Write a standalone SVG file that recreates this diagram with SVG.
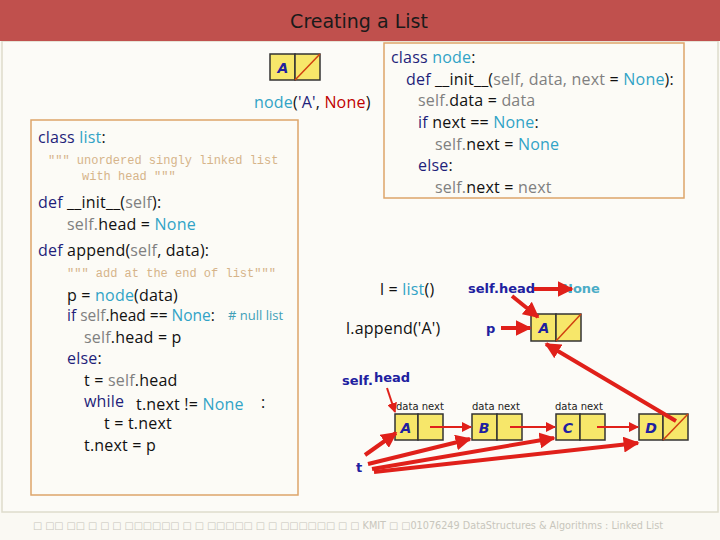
<svg xmlns="http://www.w3.org/2000/svg" width="720" height="540" viewBox="0 0 720 540">
<style>
.code{font-family:"Open Sans","Liberation Sans",sans-serif;font-size:16px;letter-spacing:0.2px;fill:#111}
.kw{fill:#1F1F7A}
.tl{fill:#31A3C6}
.gr{fill:#808080}
.doc{font-family:"Liberation Mono",monospace;font-size:12px;letter-spacing:0;fill:#D6B48A}
.lbl{font-family:"Comic Sans MS","DejaVu Sans",sans-serif;font-weight:bold;fill:#2020A0;font-size:13px}
.small{font-family:"Comic Sans MS","DejaVu Sans",sans-serif;font-size:10px;fill:#222}
.cell{fill:#F7E76A;stroke:#333;stroke-width:1.5}
.slash{stroke:#D04010;stroke-width:1.5}
.nd{font-family:"Comic Sans MS","DejaVu Sans",sans-serif;font-weight:bold;font-style:italic;font-size:14px;fill:#2020A0;text-anchor:middle}
.box{fill:#FCFBF6;stroke:#DDA56A;stroke-width:1.5}
.thin{stroke:#E0201A;stroke-width:2;fill:none}
.thick{stroke:#E0201A;stroke-width:4;fill:none}
</style>
<defs>
<marker id="ah" viewBox="0 0 10 10" refX="9" refY="5" markerWidth="5" markerHeight="5" orient="auto" markerUnits="strokeWidth"><path d="M0,0 L10,5 L0,10 z" fill="#E0201A"/></marker>
<marker id="ahs" viewBox="0 0 10 10" refX="9" refY="5" markerWidth="4" markerHeight="4" orient="auto" markerUnits="strokeWidth"><path d="M0,0 L10,5 L0,10 z" fill="#E0201A"/></marker>
</defs>
<rect x="0" y="0" width="720" height="540" fill="#FAF9F3"/>
<rect x="2" y="41" width="716" height="471" fill="#FCFBF7" stroke="#DEDCCC" stroke-width="1.5"/>
<rect x="0" y="0" width="720" height="41" fill="#C0504D"/>
<text x="359" y="28" text-anchor="middle" font-family="'Comic Sans MS','DejaVu Sans',sans-serif" font-size="19" fill="#1a1a1a">Creating a List</text>

<g id="node-demo">
<rect class="cell" x="270" y="54" width="25" height="26"/>
<rect class="cell" x="295" y="54" width="25" height="26"/>
<line class="slash" x1="295" y1="80" x2="320" y2="54"/>
<text class="nd" x="283" y="73">A</text>
<text class="code" x="254" y="108"><tspan class="tl">node</tspan>(<tspan style="fill:#1F1F7A">'A'</tspan>, <tspan style="fill:#C00000">None</tspan>)</text>
</g>

<g id="class-node">
<rect class="box" x="384" y="43" width="300" height="155"/>
<text class="code" x="391" y="63"><tspan class="kw">class</tspan> <tspan class="tl">node</tspan>:</text>
<text class="code" x="406" y="85"><tspan class="kw">def</tspan> __init__(<tspan class="gr">self, data, next</tspan> = <tspan class="tl">None</tspan>):</text>
<text class="code" x="418" y="106"><tspan class="gr">self.</tspan>data = <tspan class="gr">data</tspan></text>
<text class="code" x="418" y="128"><tspan class="kw">if</tspan> next == <tspan class="tl">None</tspan>:</text>
<text class="code" x="435" y="150"><tspan class="gr">self.</tspan>next = <tspan class="tl">None</tspan></text>
<text class="code" x="418" y="171"><tspan class="kw">else</tspan>:</text>
<text class="code" x="435" y="193"><tspan class="gr">self.</tspan>next = <tspan class="gr">next</tspan></text>
</g>

<g id="class-list">
<rect class="box" x="31" y="120" width="267" height="375"/>
<text class="code" x="38" y="143"><tspan class="kw">class</tspan> <tspan class="tl">list</tspan>:</text>
<text class="doc" x="48" y="164">""" unordered singly linked list</text>
<text class="doc" x="82" y="180">with head """</text>
<text class="code" x="38" y="208"><tspan class="kw">def</tspan> __init__(<tspan class="gr">self</tspan>):</text>
<text class="code" x="67" y="230"><tspan class="gr">self.</tspan>head = <tspan class="tl">None</tspan></text>
<text class="code" x="38" y="256"><tspan class="kw">def</tspan> append(<tspan class="gr">self</tspan>, data):</text>
<text class="doc" x="67" y="277">""" add at the end of list"""</text>
<text class="code" x="67" y="301">p = <tspan class="tl">node</tspan>(data)</text>
<text class="code" x="67" y="321" style="font-size:15.5px;letter-spacing:0"><tspan class="kw">if</tspan> <tspan class="gr">self</tspan>.head == <tspan class="tl">None</tspan>:</text>
<text class="code" x="228" y="320" style="font-size:13px;letter-spacing:0;fill:#3FA0B8">#&#160;null list</text>
<text class="code" x="84" y="343"><tspan class="gr">self</tspan>.head = p</text>
<text class="code" x="67" y="364"><tspan class="kw">else</tspan>:</text>
<text class="code" x="84" y="386">t = <tspan class="gr">self</tspan>.head</text>
<text class="code kw" x="84" y="407">while</text>
<text class="code" x="136" y="410">t.next != <tspan class="tl">None</tspan></text>
<text class="code" x="261" y="408">:</text>
<text class="code" x="104" y="429">t = t.next</text>
<text class="code" x="84" y="451">t.next = p</text>
</g>

<g id="calls">
<text class="code" x="380" y="295">l = <tspan class="tl">list</tspan>()</text>
<text class="code" x="346" y="334">l.append('A')</text>
</g>

<g id="label-selfhead-top"><text class="lbl" x="468" y="293">self.head</text></g>
<g id="label-none"><text class="lbl" x="562" y="293" style="fill:#4BACC6">None</text></g>
<g id="label-p"><text class="lbl" x="486" y="333">p</text></g>
<g id="node-A-single">
<rect class="cell" x="531" y="314" width="25" height="27"/>
<rect class="cell" x="556" y="314" width="25" height="27"/>
<line class="slash" x1="556" y1="341" x2="581" y2="314"/>
<text class="nd" x="544" y="333">A</text>
</g>

<g id="label-selfhead"><text class="lbl" x="342" y="385">self.</text><text class="lbl" x="374" y="382">head</text></g>
<g id="labels-datanext">
<text class="small" x="396" y="410">data next</text>
<text class="small" x="472" y="410">data next</text>
<text class="small" x="555" y="410">data next</text>
</g>
<g id="node-A">
<rect class="cell" x="395" y="414" width="23" height="26"/>
<rect class="cell" x="418" y="414" width="25" height="26"/>
<text class="nd" x="406" y="433">A</text>
</g>
<g id="node-B">
<rect class="cell" x="472" y="414" width="25" height="26"/>
<rect class="cell" x="497" y="414" width="25" height="26"/>
<text class="nd" x="484" y="433">B</text>
</g>
<g id="node-C">
<rect class="cell" x="556" y="414" width="24" height="26"/>
<rect class="cell" x="580" y="414" width="25" height="26"/>
<text class="nd" x="568" y="433">C</text>
</g>
<g id="node-D">
<rect class="cell" x="639" y="414" width="24" height="26"/>
<rect class="cell" x="663" y="414" width="25" height="26"/>
<line class="slash" x1="663" y1="440" x2="688" y2="414"/>
<text class="nd" x="651" y="433">D</text>
</g>
<g id="label-t"><text class="lbl" x="356" y="472">t</text></g>

<g id="connectors">
<line class="thick" x1="534" y1="289" x2="572" y2="289" marker-end="url(#ahs)"/>
<line class="thick" x1="512" y1="296" x2="538" y2="317" marker-end="url(#ahs)"/>
<line class="thick" x1="501" y1="328" x2="530" y2="328" marker-end="url(#ahs)"/>
<line class="thick" x1="676" y1="421" x2="546" y2="344" marker-end="url(#ahs)"/>
<line class="thin" x1="387" y1="388" x2="395" y2="412" marker-end="url(#ah)"/>
<line class="thin" x1="430" y1="427" x2="471" y2="427" marker-end="url(#ah)"/>
<line class="thin" x1="510" y1="427" x2="555" y2="427" marker-end="url(#ah)"/>
<line class="thin" x1="597" y1="427" x2="638" y2="427" marker-end="url(#ah)"/>
<line class="thick" x1="365" y1="455" x2="396" y2="433" marker-end="url(#ahs)"/>
<line class="thick" x1="368" y1="464" x2="470" y2="439" marker-end="url(#ahs)"/>
<line class="thick" x1="372" y1="469" x2="554" y2="438" marker-end="url(#ahs)"/>
<line class="thick" x1="374" y1="472" x2="638" y2="443" marker-end="url(#ahs)"/>
</g>

<text x="33" y="529" font-family="'DejaVu Sans',sans-serif" font-size="10" fill="#C8C6BC" textLength="630" lengthAdjust="spacingAndGlyphs">□ □□ □□ □ □ □ □□□□□□ □ □ □□□□□ □ □ □□□□□□ □ □ KMIT □ □01076249 DataStructures &amp; Algorithms : Linked List</text>
</svg>
